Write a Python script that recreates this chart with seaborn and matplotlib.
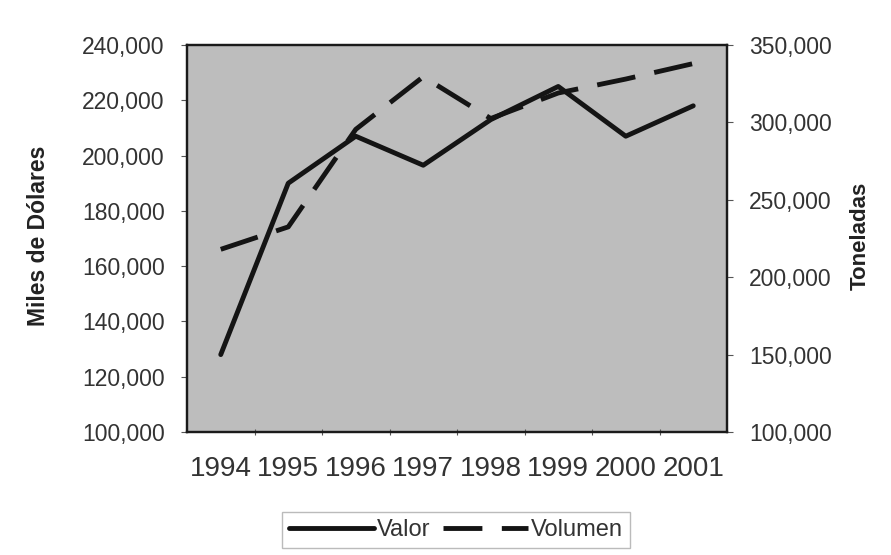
import matplotlib
matplotlib.use("Agg")
import matplotlib.pyplot as plt
import matplotlib.ticker as mticker
from matplotlib.lines import Line2D
import numpy as np
import pandas as pd
import seaborn as sns

# Datos
years = ["1994", "1995", "1996", "1997", "1998", "1999", "2000", "2001"]
valor = [128000, 190000, 207000, 196500, 213000, 225000, 207000, 218000]      # miles de dólares
volumen = [218000, 232500, 295500, 329500, 302500, 319000, 328000, 338000]    # toneladas

df = pd.DataFrame({"pos": np.arange(len(years)), "year": years,
                   "valor": valor, "volumen": volumen})

sns.set_theme(style="white")
plt.rcParams['font.family'] = ['Liberation Sans', 'DejaVu Sans']

text_col = "#333333"
line_col = "#141414"

fig = plt.figure(figsize=(8.91, 5.55), dpi=100)
ax = fig.add_axes([187 / 891, 1 - 432 / 555, 540 / 891, 387 / 555])
ax.set_facecolor("#bdbdbd")

sns.lineplot(data=df, x="pos", y="valor", ax=ax, color=line_col, lw=3.5, legend=False)

ax2 = ax.twinx()
sns.lineplot(data=df, x="pos", y="volumen", ax=ax2, color=line_col, lw=3.5, legend=False)
ax2.lines[0].set_linestyle((0, (8, 4)))

# ejes
ax.set_xlim(-0.5, len(years) - 0.5)
ax.set_ylim(100000, 240000)
ax2.set_ylim(100000, 350000)
ax.set_yticks(np.arange(100000, 240001, 20000))
ax2.set_yticks(np.arange(100000, 350001, 50000))
fmt = mticker.FuncFormatter(lambda v, p: f"{int(v):,}")
ax.yaxis.set_major_formatter(fmt)
ax2.yaxis.set_major_formatter(fmt)

ax.set_xticks(df["pos"])
ax.set_xticklabels(years)
ax.set_xticks(np.arange(0.5, len(years) - 1, 1), minor=True)
ax.tick_params(axis="x", which="major", length=0, pad=17, labelsize=20, colors=text_col)
ax.tick_params(axis="x", which="minor", bottom=True, length=4, width=0.8, color="#555555", direction="inout")
ax.tick_params(axis="y", left=True, length=4, width=0.8, color="#555555", pad=12,
               labelsize=16.5, labelcolor=text_col)
ax2.tick_params(axis="y", right=True, length=4, width=0.8, color="#555555", pad=12,
                labelsize=16.5, labelcolor=text_col)

ax.set_xlabel("")
ax.set_ylabel("Miles de Dólares", fontsize=16.5, fontweight="bold", color="#222222")
ax.yaxis.set_label_coords(-0.254, 0.506)
ax2.set_ylabel("Toneladas", fontsize=16, fontweight="bold", color="#222222")
ax2.yaxis.set_label_coords(1.228, 0.506)

for a in (ax, ax2):
    for s in a.spines.values():
        s.set_color("#1a1a1a")
        s.set_linewidth(1.6)

# leyenda
handles = [Line2D([], [], color=line_col, lw=3.5),
           Line2D([], [], color=line_col, lw=3.5, linestyle=(0, (8, 4)))]
leg = fig.legend(handles, ["Valor", "Volumen"], loc="center", ncol=2,
                 bbox_to_anchor=(456 / 891, 1 - 530 / 555), fontsize=17,
                 frameon=True, fancybox=False, edgecolor="#aaaaaa",
                 handlelength=3.6, handletextpad=0.1, columnspacing=0.55,
                 borderpad=0.3)
leg.get_frame().set_linewidth(1.0)
for t in leg.get_texts():
    t.set_color(text_col)

fig.savefig("out.png", dpi=100)
plt.close(fig)
